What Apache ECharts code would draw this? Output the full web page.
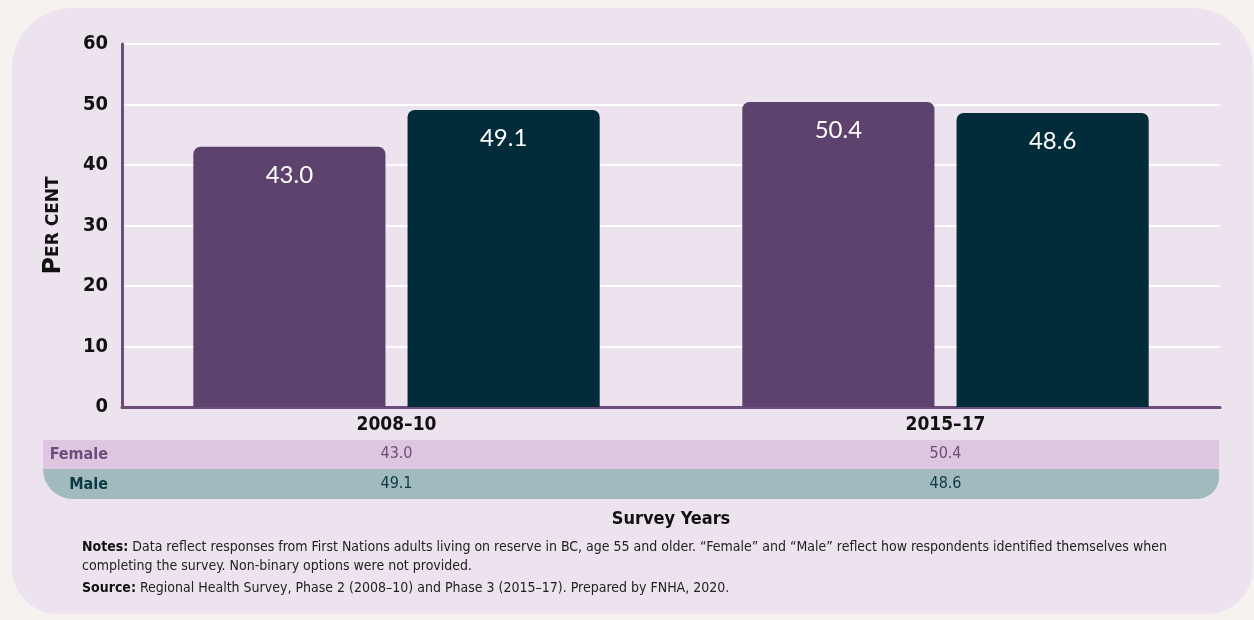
<!DOCTYPE html>
<html>
<head>
<meta charset="utf-8">
<script src="https://cdn.jsdelivr.net/npm/echarts@6/dist/echarts.min.js"></script>
<style>
  html, body { margin: 0; padding: 0; background: #f5f2ef; }
  #card { position: absolute; left: 12px; top: 8px; width: 1241px; height: 606px;
          background: #ede3ef; border-radius: 60px 60px 46px 46px; }
  #main { position: absolute; left: 0; top: 0; width: 1254px; height: 620px; }
</style>
</head>
<body>
<div id="card"></div>
<div id="main"></div>
<script>
const categories = ['2008–10', '2015–17'];
const femaleValues = [43.0, 50.4];
const maleValues = [49.1, 48.6];
const seriesNames = ['Female', 'Male'];
const yTicks = [0, 10, 20, 30, 40, 50, 60];

const COND = '"Liberation Sans Narrow", "DejaVu Sans Condensed", sans-serif';
const ROUND = 'Lato, "Noto Sans", sans-serif';
const WIDE = '"DejaVu Sans", sans-serif';
const PURPLE = '#5c426c';
const TEAL = '#022c3a';

const chart = echarts.init(document.getElementById('main'), null, { renderer: 'canvas' });

const baseX = {
  type: 'category',
  data: categories,
  position: 'bottom',
  axisTick: { show: false },
  axisLine: { show: false },
  splitLine: { show: false }
};

const option = {
  backgroundColor: 'transparent',
  animation: false,
  grid: { left: 122, right: 34, top: 44, bottom: 213 },
  xAxis: [
    Object.assign({}, baseX, {
      axisLine: { show: true, lineStyle: { color: '#6b4f7a', width: 3 } },
      axisLabel: { color: '#111', fontFamily: COND, fontWeight: 'bold', fontSize: 19, margin: 9 },
      name: 'Survey Years',
      nameLocation: 'middle',
      nameGap: 103,
      nameTextStyle: { color: '#111', fontFamily: COND, fontWeight: 'bold', fontSize: 18 }
    }),
    Object.assign({}, baseX, {
      axisLabel: { color: '#6b4f7a', fontFamily: COND, fontSize: 16, margin: 39,
        formatter: (v, i) => femaleValues[i].toFixed(1) }
    }),
    Object.assign({}, baseX, {
      axisLabel: { color: '#0b3a45', fontFamily: COND, fontSize: 16, margin: 69,
        formatter: (v, i) => maleValues[i].toFixed(1) }
    })
  ],
  yAxis: {
    type: 'value',
    min: yTicks[0],
    max: yTicks[yTicks.length - 1],
    interval: 10,
    axisLine: { show: true, lineStyle: { color: '#6b4f7a', width: 3 } },
    axisTick: { show: false },
    splitLine: { lineStyle: { color: '#ffffff', width: 2 } },
    axisLabel: { color: '#111', fontFamily: COND, fontWeight: 'bold', fontSize: 20, margin: 14 },
    name: '{big|P}{small|ER CENT}',
    nameLocation: 'middle',
    nameGap: 56,
    nameRotate: 90,
    nameTextStyle: {
      rich: {
        big: { fontFamily: WIDE, fontSize: 24, fontWeight: 'bold', color: '#111' },
        small: { fontFamily: WIDE, fontSize: 17, fontWeight: 'bold', color: '#111' }
      }
    }
  },
  series: [
    {
      name: seriesNames[0], type: 'bar', xAxisIndex: 0, data: femaleValues,
      barWidth: '35%', barGap: '11.5%',
      itemStyle: { color: PURPLE, borderRadius: [7, 7, 0, 0] },
      label: { show: true, position: 'insideTop', distance: 16, color: '#fff',
        fontFamily: ROUND, fontSize: 24, formatter: p => p.value.toFixed(1) }
    },
    {
      name: seriesNames[1], type: 'bar', xAxisIndex: 0, data: maleValues,
      barWidth: '35%', barGap: '11.5%',
      itemStyle: { color: TEAL, borderRadius: [7, 7, 0, 0] },
      label: { show: true, position: 'insideTop', distance: 16, color: '#fff',
        fontFamily: ROUND, fontSize: 24, formatter: p => p.value.toFixed(1) }
    }
  ],
  graphic: [
    { type: 'rect', z: -10, shape: { x: 43, y: 440, width: 1176, height: 29 },
      style: { fill: '#dfc6e0' } },
    { type: 'rect', z: -10, shape: { x: 43, y: 469, width: 1176, height: 30, r: [0, 0, 22, 32] },
      style: { fill: '#a1babd' } },
    { type: 'text', x: 108, y: 455,
      style: { text: seriesNames[0], align: 'right', verticalAlign: 'middle',
        fill: '#6b4f7a', font: 'bold 16px ' + COND } },
    { type: 'text', x: 108, y: 485,
      style: { text: seriesNames[1], align: 'right', verticalAlign: 'middle',
        fill: '#0b3a45', font: 'bold 16px ' + COND } },
    { type: 'text', x: 82, y: 538,
      style: {
        text: '{b|Notes:} Data reflect responses from First Nations adults living on reserve in BC, age 55 and older. \u201CFemale\u201D and \u201CMale\u201D reflect how respondents identified themselves when\ncompleting the survey. Non-binary options were not provided.',
        verticalAlign: 'top', lineHeight: 19,
        font: '14px ' + COND, fill: '#222',
        rich: { b: { font: 'bold 14px ' + COND, fill: '#111', lineHeight: 19 } }
      } },
    { type: 'text', x: 82, y: 588,
      style: {
        text: '{b|Source:} Regional Health Survey, Phase 2 (2008\u201310) and Phase 3 (2015\u201317). Prepared by FNHA, 2020.',
        verticalAlign: 'middle',
        font: '14px ' + COND, fill: '#222',
        rich: { b: { font: 'bold 14px ' + COND, fill: '#111' } }
      } }
  ]
};

chart.setOption(option);
</script>
</body>
</html>
